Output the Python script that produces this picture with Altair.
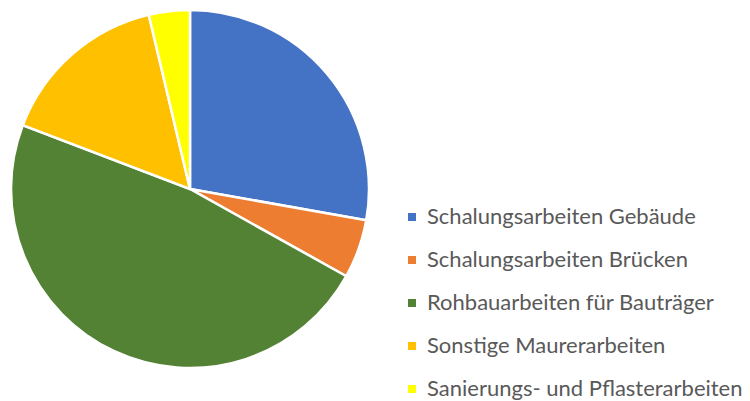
import altair as alt
import pandas as pd

categories = [
    "Schalungsarbeiten Gebäude",
    "Schalungsarbeiten Brücken",
    "Rohbauarbeiten für Bauträger",
    "Sonstige Maurerarbeiten",
    "Sanierungs- und Pflasterarbeiten",
]
values = [27.8, 5.3, 47.7, 15.5, 3.7]
colors = ["#4472C4", "#ED7D31", "#548235", "#FFC000", "#FFFF00"]

df = pd.DataFrame({"category": categories, "value": values, "idx": list(range(len(categories)))})

chart = (
    alt.Chart(df)
    .mark_arc(outerRadius=179, stroke="white", strokeWidth=2.5)
    .encode(
        theta=alt.Theta("value:Q", stack=True),
        order=alt.Order("idx:Q"),
        color=alt.Color(
            "category:N",
            scale=alt.Scale(domain=categories, range=colors),
            sort=categories,
            legend=alt.Legend(
                title=None,
                orient="none",
                legendX=401,
                legendY=206,
                symbolType="square",
                symbolSize=64,
                symbolStrokeWidth=0,
                labelFontSize=22,
                labelFont="Lato",
                labelColor="#595959",
                rowPadding=21,
                labelOffset=4,
                labelLimit=400,
            ),
        ),
        x=alt.value(190),
        y=alt.value(189),
    )
    .properties(width=750, height=401, autosize=alt.AutoSizeParams(type="none"), padding=0)
    .configure_view(stroke=None)
)

chart.save("out.html", embed_options={"renderer": "svg", "actions": False})
